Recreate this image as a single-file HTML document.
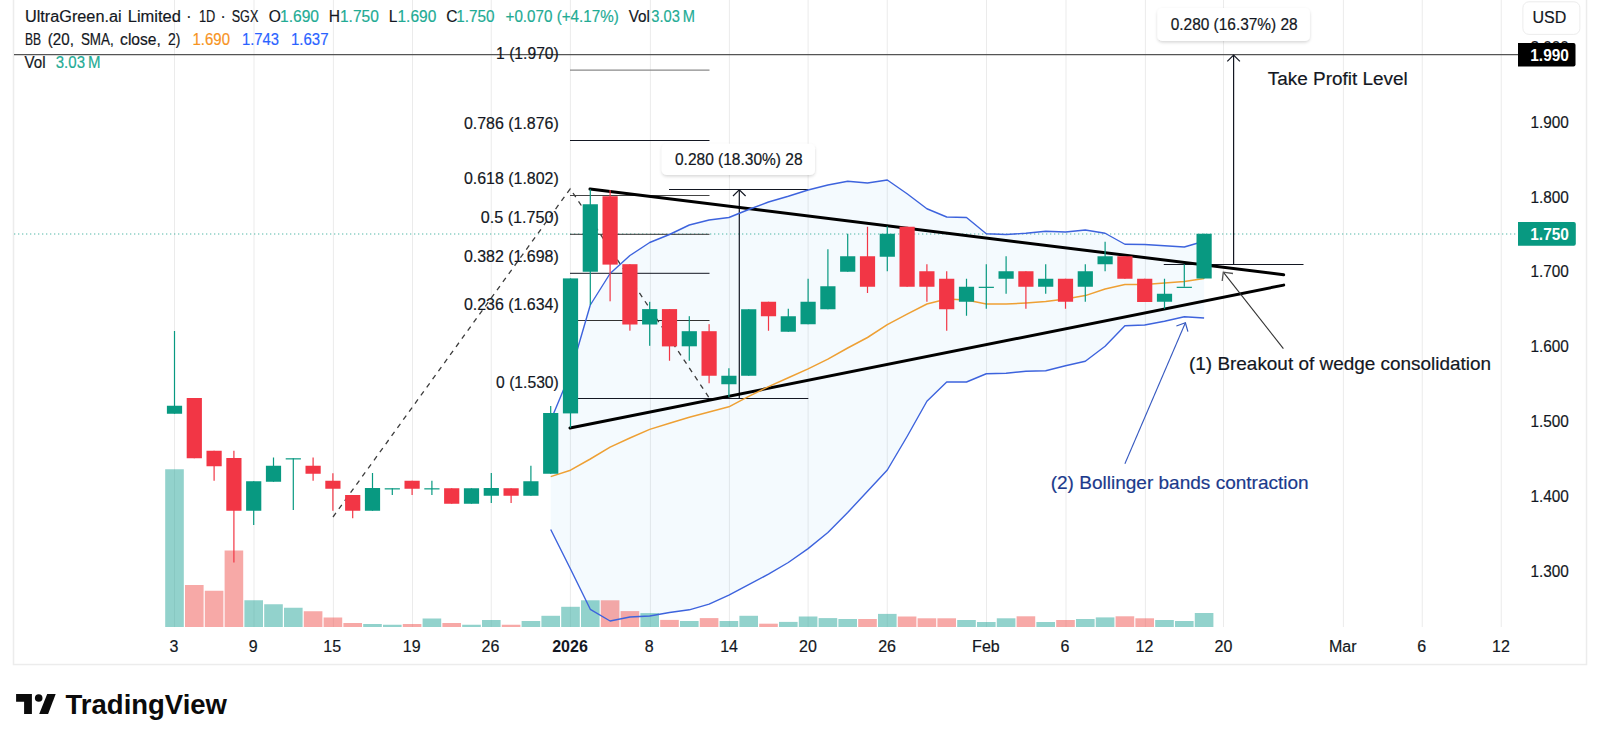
<!DOCTYPE html><html><head><meta charset="utf-8"><title>UltraGreen.ai Limited chart</title><style>
html,body{margin:0;padding:0;background:#fff;}body{width:1600px;height:745px;overflow:hidden;position:relative;}
svg{position:absolute;left:0;top:0;display:block;}
text{font-family:"Liberation Sans", Arial, sans-serif;stroke-width:0.18px;}
</style></head><body>
<svg width="1600" height="745" viewBox="0 0 1600 745">
<rect x="0" y="0" width="1600" height="745" fill="#ffffff"/>
<rect x="13.5" y="-2" width="1573" height="666.5" fill="none" stroke="#ececec" stroke-width="1.5"/>
<line x1="174.50" y1="0" x2="174.50" y2="627" stroke="#ebebeb" stroke-width="1"/>
<line x1="254.00" y1="0" x2="254.00" y2="627" stroke="#ebebeb" stroke-width="1"/>
<line x1="333.40" y1="0" x2="333.40" y2="627" stroke="#ebebeb" stroke-width="1"/>
<line x1="412.50" y1="0" x2="412.50" y2="627" stroke="#ebebeb" stroke-width="1"/>
<line x1="491.25" y1="0" x2="491.25" y2="627" stroke="#ebebeb" stroke-width="1"/>
<line x1="570.40" y1="0" x2="570.40" y2="627" stroke="#ebebeb" stroke-width="1"/>
<line x1="650.40" y1="0" x2="650.40" y2="627" stroke="#ebebeb" stroke-width="1"/>
<line x1="729.40" y1="0" x2="729.40" y2="627" stroke="#ebebeb" stroke-width="1"/>
<line x1="808.10" y1="0" x2="808.10" y2="627" stroke="#ebebeb" stroke-width="1"/>
<line x1="887.25" y1="0" x2="887.25" y2="627" stroke="#ebebeb" stroke-width="1"/>
<line x1="986.50" y1="0" x2="986.50" y2="627" stroke="#ebebeb" stroke-width="1"/>
<line x1="1066.00" y1="0" x2="1066.00" y2="627" stroke="#ebebeb" stroke-width="1"/>
<line x1="1145.40" y1="0" x2="1145.40" y2="627" stroke="#ebebeb" stroke-width="1"/>
<line x1="1223.50" y1="0" x2="1223.50" y2="627" stroke="#ebebeb" stroke-width="1"/>
<line x1="1343.40" y1="0" x2="1343.40" y2="627" stroke="#ebebeb" stroke-width="1"/>
<line x1="1422.25" y1="0" x2="1422.25" y2="627" stroke="#ebebeb" stroke-width="1"/>
<line x1="1501.25" y1="0" x2="1501.25" y2="627" stroke="#ebebeb" stroke-width="1"/>
<polygon points="550.70,420.50 570.50,373.00 590.30,305.00 610.10,273.50 629.90,255.50 649.70,242.50 669.50,234.50 689.30,225.00 709.10,220.00 728.90,217.50 748.70,209.50 768.50,202.00 788.30,196.25 808.10,190.00 827.90,185.00 847.70,181.25 867.50,183.00 887.30,180.00 907.10,193.75 926.90,208.75 946.70,217.00 966.50,217.50 986.30,233.75 1006.10,234.50 1025.90,233.25 1045.70,231.25 1065.50,232.00 1085.30,230.00 1105.10,233.25 1124.90,244.25 1144.70,244.50 1164.50,245.75 1184.30,247.00 1204.10,241.25 1204.10,318.00 1184.30,316.75 1164.50,321.25 1144.70,325.00 1124.90,325.75 1105.10,346.25 1085.30,361.25 1065.50,365.75 1045.70,370.75 1025.90,371.25 1006.10,373.25 986.30,373.75 966.50,382.00 946.70,382.00 926.90,401.25 907.10,436.50 887.30,470.00 867.50,491.25 847.70,512.50 827.90,532.50 808.10,548.60 788.30,562.50 768.50,574.20 748.70,584.60 728.90,595.10 709.10,604.10 689.30,609.80 669.50,612.50 649.70,616.00 629.90,617.00 610.10,621.00 590.30,609.30 570.50,569.00 550.70,529.50" fill="rgba(33,150,243,0.05)"/>
<rect x="165.20" y="469.25" width="18.6" height="157.75" fill="rgba(38,166,154,0.5)"/>
<rect x="185.00" y="585.00" width="18.6" height="42.00" fill="rgba(239,83,80,0.5)"/>
<rect x="204.80" y="590.75" width="18.6" height="36.25" fill="rgba(239,83,80,0.5)"/>
<rect x="224.60" y="550.50" width="18.6" height="76.50" fill="rgba(239,83,80,0.5)"/>
<rect x="244.40" y="600.25" width="18.6" height="26.75" fill="rgba(38,166,154,0.5)"/>
<rect x="264.20" y="604.25" width="18.6" height="22.75" fill="rgba(38,166,154,0.5)"/>
<rect x="284.00" y="607.75" width="18.6" height="19.25" fill="rgba(38,166,154,0.5)"/>
<rect x="303.80" y="611.25" width="18.6" height="15.75" fill="rgba(239,83,80,0.5)"/>
<rect x="323.60" y="617.50" width="18.6" height="9.50" fill="rgba(239,83,80,0.5)"/>
<rect x="343.40" y="623.00" width="18.6" height="4.00" fill="rgba(239,83,80,0.5)"/>
<rect x="363.20" y="624.00" width="18.6" height="3.00" fill="rgba(38,166,154,0.5)"/>
<rect x="383.00" y="624.75" width="18.6" height="2.25" fill="rgba(38,166,154,0.5)"/>
<rect x="402.80" y="624.00" width="18.6" height="3.00" fill="rgba(239,83,80,0.5)"/>
<rect x="422.60" y="618.50" width="18.6" height="8.50" fill="rgba(38,166,154,0.5)"/>
<rect x="442.40" y="623.00" width="18.6" height="4.00" fill="rgba(239,83,80,0.5)"/>
<rect x="462.20" y="624.75" width="18.6" height="2.25" fill="rgba(38,166,154,0.5)"/>
<rect x="482.00" y="620.00" width="18.6" height="7.00" fill="rgba(38,166,154,0.5)"/>
<rect x="501.80" y="624.75" width="18.6" height="2.25" fill="rgba(239,83,80,0.5)"/>
<rect x="521.60" y="621.00" width="18.6" height="6.00" fill="rgba(38,166,154,0.5)"/>
<rect x="541.40" y="615.80" width="18.6" height="11.20" fill="rgba(38,166,154,0.5)"/>
<rect x="561.20" y="606.80" width="18.6" height="20.20" fill="rgba(38,166,154,0.5)"/>
<rect x="581.00" y="600.30" width="18.6" height="26.70" fill="rgba(38,166,154,0.5)"/>
<rect x="600.80" y="600.30" width="18.6" height="26.70" fill="rgba(239,83,80,0.5)"/>
<rect x="620.60" y="611.10" width="18.6" height="15.90" fill="rgba(239,83,80,0.5)"/>
<rect x="640.40" y="613.10" width="18.6" height="13.90" fill="rgba(38,166,154,0.5)"/>
<rect x="660.20" y="619.90" width="18.6" height="7.10" fill="rgba(239,83,80,0.5)"/>
<rect x="680.00" y="621.00" width="18.6" height="6.00" fill="rgba(38,166,154,0.5)"/>
<rect x="699.80" y="618.10" width="18.6" height="8.90" fill="rgba(239,83,80,0.5)"/>
<rect x="719.60" y="621.00" width="18.6" height="6.00" fill="rgba(38,166,154,0.5)"/>
<rect x="739.40" y="615.80" width="18.6" height="11.20" fill="rgba(38,166,154,0.5)"/>
<rect x="759.20" y="623.70" width="18.6" height="3.30" fill="rgba(239,83,80,0.5)"/>
<rect x="779.00" y="621.90" width="18.6" height="5.10" fill="rgba(38,166,154,0.5)"/>
<rect x="798.80" y="616.50" width="18.6" height="10.50" fill="rgba(38,166,154,0.5)"/>
<rect x="818.60" y="618.10" width="18.6" height="8.90" fill="rgba(38,166,154,0.5)"/>
<rect x="838.40" y="619.00" width="18.6" height="8.00" fill="rgba(38,166,154,0.5)"/>
<rect x="858.20" y="619.00" width="18.6" height="8.00" fill="rgba(239,83,80,0.5)"/>
<rect x="878.00" y="613.90" width="18.6" height="13.10" fill="rgba(38,166,154,0.5)"/>
<rect x="897.80" y="616.50" width="18.6" height="10.50" fill="rgba(239,83,80,0.5)"/>
<rect x="917.60" y="618.30" width="18.6" height="8.70" fill="rgba(239,83,80,0.5)"/>
<rect x="937.40" y="618.30" width="18.6" height="8.70" fill="rgba(239,83,80,0.5)"/>
<rect x="957.20" y="620.00" width="18.6" height="7.00" fill="rgba(38,166,154,0.5)"/>
<rect x="977.00" y="622.00" width="18.6" height="5.00" fill="rgba(38,166,154,0.5)"/>
<rect x="996.80" y="618.30" width="18.6" height="8.70" fill="rgba(38,166,154,0.5)"/>
<rect x="1016.60" y="616.30" width="18.6" height="10.70" fill="rgba(239,83,80,0.5)"/>
<rect x="1036.40" y="622.00" width="18.6" height="5.00" fill="rgba(38,166,154,0.5)"/>
<rect x="1056.20" y="620.00" width="18.6" height="7.00" fill="rgba(239,83,80,0.5)"/>
<rect x="1076.00" y="619.00" width="18.6" height="8.00" fill="rgba(38,166,154,0.5)"/>
<rect x="1095.80" y="617.40" width="18.6" height="9.60" fill="rgba(38,166,154,0.5)"/>
<rect x="1115.60" y="616.30" width="18.6" height="10.70" fill="rgba(239,83,80,0.5)"/>
<rect x="1135.40" y="618.30" width="18.6" height="8.70" fill="rgba(239,83,80,0.5)"/>
<rect x="1155.20" y="620.00" width="18.6" height="7.00" fill="rgba(38,166,154,0.5)"/>
<rect x="1175.00" y="621.00" width="18.6" height="6.00" fill="rgba(38,166,154,0.5)"/>
<rect x="1194.80" y="613.00" width="18.6" height="14.00" fill="rgba(38,166,154,0.5)"/>
<line x1="14" y1="234" x2="1517" y2="234" stroke="#089981" stroke-width="1" stroke-dasharray="1.3,2.7" opacity="0.7"/>
<line x1="570" y1="70.10" x2="709.5" y2="70.10" stroke="#8a8a8a" stroke-width="1.3"/>
<line x1="570" y1="140.50" x2="709.5" y2="140.50" stroke="#131722" stroke-width="1.0"/>
<line x1="570" y1="195.50" x2="709.5" y2="195.50" stroke="#444" stroke-width="1.0"/>
<line x1="570" y1="234.30" x2="709.5" y2="234.30" stroke="#333" stroke-width="1.0"/>
<line x1="570" y1="273.30" x2="709.5" y2="273.30" stroke="#131722" stroke-width="1.0"/>
<line x1="570" y1="320.50" x2="709.5" y2="320.50" stroke="#333" stroke-width="1.0"/>
<line x1="570" y1="398.50" x2="709.5" y2="398.50" stroke="#131722" stroke-width="1.0"/>
<polyline points="333,517 570.2,188.8 709.3,398" fill="none" stroke="#3c3c3c" stroke-width="1.3" stroke-dasharray="5,5"/>
<line x1="669" y1="189.5" x2="808.3" y2="189.5" stroke="#131722" stroke-width="1"/>
<line x1="669" y1="398.5" x2="808.3" y2="398.5" stroke="#131722" stroke-width="1"/>
<line x1="739.3" y1="398.5" x2="739.3" y2="190" stroke="#131722" stroke-width="1.2"/>
<polyline points="733,196 739.3,189.8 745.6,196" fill="none" stroke="#131722" stroke-width="1.2"/>
<line x1="14" y1="54.7" x2="1518" y2="54.7" stroke="#555" stroke-width="1.2"/>
<line x1="1163.75" y1="264.5" x2="1303.5" y2="264.5" stroke="#131722" stroke-width="1"/>
<line x1="1233.6" y1="264.5" x2="1233.6" y2="55" stroke="#131722" stroke-width="1.2"/>
<polyline points="1227.3,61.3 1233.6,55 1239.9,61.3" fill="none" stroke="#131722" stroke-width="1.2"/>
<line x1="590" y1="189" x2="1283.7" y2="274.8" stroke="#000" stroke-width="3" stroke-linecap="round"/>
<line x1="570" y1="428" x2="1283.7" y2="285.1" stroke="#000" stroke-width="3" stroke-linecap="round"/>
<line x1="1283.4" y1="348.7" x2="1223.3" y2="272.2" stroke="#333" stroke-width="1.1"/>
<polyline points="1233,273.5 1223.3,272.2 1222.2,281" fill="none" stroke="#555" stroke-width="1.3"/>
<line x1="1124.9" y1="463.8" x2="1185.4" y2="322.8" stroke="#3558c0" stroke-width="1.1"/>
<polyline points="1176.4,326 1185.4,322.8 1187.9,331.7" fill="none" stroke="#3558c0" stroke-width="1.2"/>
<polyline points="550.70,420.50 570.50,373.00 590.30,305.00 610.10,273.50 629.90,255.50 649.70,242.50 669.50,234.50 689.30,225.00 709.10,220.00 728.90,217.50 748.70,209.50 768.50,202.00 788.30,196.25 808.10,190.00 827.90,185.00 847.70,181.25 867.50,183.00 887.30,180.00 907.10,193.75 926.90,208.75 946.70,217.00 966.50,217.50 986.30,233.75 1006.10,234.50 1025.90,233.25 1045.70,231.25 1065.50,232.00 1085.30,230.00 1105.10,233.25 1124.90,244.25 1144.70,244.50 1164.50,245.75 1184.30,247.00 1204.10,241.25" fill="none" stroke="#3d63dd" stroke-width="1.4" stroke-linejoin="round"/>
<polyline points="550.70,529.50 570.50,569.00 590.30,609.30 610.10,621.00 629.90,617.00 649.70,616.00 669.50,612.50 689.30,609.80 709.10,604.10 728.90,595.10 748.70,584.60 768.50,574.20 788.30,562.50 808.10,548.60 827.90,532.50 847.70,512.50 867.50,491.25 887.30,470.00 907.10,436.50 926.90,401.25 946.70,382.00 966.50,382.00 986.30,373.75 1006.10,373.25 1025.90,371.25 1045.70,370.75 1065.50,365.75 1085.30,361.25 1105.10,346.25 1124.90,325.75 1144.70,325.00 1164.50,321.25 1184.30,316.75 1204.10,318.00" fill="none" stroke="#3d63dd" stroke-width="1.4" stroke-linejoin="round"/>
<polyline points="550.70,476.60 570.50,470.20 590.30,459.00 610.10,447.10 629.90,438.00 649.70,429.40 669.50,423.20 689.30,417.20 709.10,412.00 728.90,406.80 748.70,396.30 768.50,386.60 788.30,377.80 808.10,368.90 827.90,359.20 847.70,348.00 867.50,337.50 887.30,324.60 907.10,314.20 926.90,304.00 946.70,299.00 966.50,300.00 986.30,304.00 1006.10,304.00 1025.90,303.00 1045.70,301.60 1065.50,299.00 1085.30,295.60 1105.10,289.00 1124.90,284.40 1144.70,284.40 1164.50,283.00 1184.30,281.60 1204.10,278.60" fill="none" stroke="#eea034" stroke-width="1.5" stroke-linejoin="round"/>
<rect x="173.90" y="331.00" width="1.2" height="82.75" fill="#089981"/>
<rect x="166.90" y="405.75" width="15.2" height="8.00" fill="#089981"/>
<rect x="193.70" y="398.00" width="1.2" height="60.25" fill="#F23645"/>
<rect x="186.70" y="398.00" width="15.2" height="60.25" fill="#F23645"/>
<rect x="213.50" y="450.75" width="1.2" height="30.00" fill="#F23645"/>
<rect x="206.50" y="450.75" width="15.2" height="15.50" fill="#F23645"/>
<rect x="233.30" y="450.75" width="1.2" height="111.75" fill="#F23645"/>
<rect x="226.30" y="458.00" width="15.2" height="52.75" fill="#F23645"/>
<rect x="253.10" y="481.25" width="1.2" height="43.75" fill="#089981"/>
<rect x="246.10" y="481.25" width="15.2" height="29.50" fill="#089981"/>
<rect x="272.90" y="457.50" width="1.2" height="24.25" fill="#089981"/>
<rect x="265.90" y="465.75" width="15.2" height="16.00" fill="#089981"/>
<rect x="292.70" y="458.25" width="1.2" height="51.75" fill="#089981"/>
<rect x="285.70" y="458.25" width="15.2" height="1.20" fill="#089981"/>
<rect x="312.50" y="457.50" width="1.2" height="23.25" fill="#F23645"/>
<rect x="305.50" y="465.75" width="15.2" height="8.00" fill="#F23645"/>
<rect x="332.30" y="473.25" width="1.2" height="37.50" fill="#F23645"/>
<rect x="325.30" y="480.75" width="15.2" height="8.00" fill="#F23645"/>
<rect x="352.10" y="495.00" width="1.2" height="23.25" fill="#F23645"/>
<rect x="345.10" y="495.00" width="15.2" height="15.75" fill="#F23645"/>
<rect x="371.90" y="473.00" width="1.2" height="37.75" fill="#089981"/>
<rect x="364.90" y="488.00" width="15.2" height="22.75" fill="#089981"/>
<rect x="391.70" y="488.25" width="1.2" height="6.75" fill="#089981"/>
<rect x="384.70" y="488.25" width="15.2" height="1.20" fill="#089981"/>
<rect x="411.50" y="480.75" width="1.2" height="14.25" fill="#F23645"/>
<rect x="404.50" y="480.75" width="15.2" height="8.00" fill="#F23645"/>
<rect x="431.30" y="480.75" width="1.2" height="14.25" fill="#089981"/>
<rect x="424.30" y="488.25" width="15.2" height="1.20" fill="#089981"/>
<rect x="451.10" y="488.25" width="1.2" height="15.50" fill="#F23645"/>
<rect x="444.10" y="488.25" width="15.2" height="15.50" fill="#F23645"/>
<rect x="470.90" y="488.25" width="1.2" height="15.50" fill="#089981"/>
<rect x="463.90" y="488.25" width="15.2" height="15.50" fill="#089981"/>
<rect x="490.70" y="473.00" width="1.2" height="30.00" fill="#089981"/>
<rect x="483.70" y="488.00" width="15.2" height="7.75" fill="#089981"/>
<rect x="510.50" y="488.25" width="1.2" height="14.75" fill="#F23645"/>
<rect x="503.50" y="488.25" width="15.2" height="7.50" fill="#F23645"/>
<rect x="530.30" y="465.75" width="1.2" height="30.00" fill="#089981"/>
<rect x="523.30" y="481.25" width="15.2" height="14.50" fill="#089981"/>
<rect x="550.10" y="406.00" width="1.2" height="67.75" fill="#089981"/>
<rect x="543.10" y="413.00" width="15.2" height="60.75" fill="#089981"/>
<rect x="569.90" y="278.40" width="1.2" height="149.40" fill="#089981"/>
<rect x="562.90" y="278.40" width="15.2" height="135.00" fill="#089981"/>
<rect x="589.70" y="189.25" width="1.2" height="115.75" fill="#089981"/>
<rect x="582.70" y="204.25" width="15.2" height="67.50" fill="#089981"/>
<rect x="609.50" y="190.00" width="1.2" height="111.30" fill="#F23645"/>
<rect x="602.50" y="196.25" width="15.2" height="68.35" fill="#F23645"/>
<rect x="629.30" y="264.20" width="1.2" height="66.50" fill="#F23645"/>
<rect x="622.30" y="264.20" width="15.2" height="60.30" fill="#F23645"/>
<rect x="649.10" y="301.80" width="1.2" height="44.00" fill="#089981"/>
<rect x="642.10" y="309.10" width="15.2" height="15.40" fill="#089981"/>
<rect x="668.90" y="309.10" width="1.2" height="51.65" fill="#F23645"/>
<rect x="661.90" y="309.10" width="15.2" height="37.30" fill="#F23645"/>
<rect x="688.70" y="316.20" width="1.2" height="44.55" fill="#089981"/>
<rect x="681.70" y="331.20" width="15.2" height="15.10" fill="#089981"/>
<rect x="708.50" y="324.20" width="1.2" height="59.05" fill="#F23645"/>
<rect x="701.50" y="331.20" width="15.2" height="44.55" fill="#F23645"/>
<rect x="728.30" y="368.25" width="1.2" height="28.75" fill="#089981"/>
<rect x="721.30" y="375.75" width="15.2" height="8.50" fill="#089981"/>
<rect x="748.10" y="309.25" width="1.2" height="66.50" fill="#089981"/>
<rect x="741.10" y="309.25" width="15.2" height="66.50" fill="#089981"/>
<rect x="767.90" y="301.75" width="1.2" height="29.00" fill="#F23645"/>
<rect x="760.90" y="301.75" width="15.2" height="14.50" fill="#F23645"/>
<rect x="787.70" y="308.75" width="1.2" height="23.00" fill="#089981"/>
<rect x="780.70" y="316.25" width="15.2" height="15.50" fill="#089981"/>
<rect x="807.50" y="278.75" width="1.2" height="45.50" fill="#089981"/>
<rect x="800.50" y="301.75" width="15.2" height="22.50" fill="#089981"/>
<rect x="827.30" y="249.25" width="1.2" height="60.00" fill="#089981"/>
<rect x="820.30" y="286.25" width="15.2" height="23.00" fill="#089981"/>
<rect x="847.10" y="233.75" width="1.2" height="38.00" fill="#089981"/>
<rect x="840.10" y="256.25" width="15.2" height="15.50" fill="#089981"/>
<rect x="866.90" y="226.75" width="1.2" height="66.25" fill="#F23645"/>
<rect x="859.90" y="256.25" width="15.2" height="30.50" fill="#F23645"/>
<rect x="886.70" y="226.25" width="1.2" height="45.00" fill="#089981"/>
<rect x="879.70" y="233.75" width="15.2" height="23.00" fill="#089981"/>
<rect x="906.50" y="226.75" width="1.2" height="60.00" fill="#F23645"/>
<rect x="899.50" y="226.75" width="15.2" height="60.00" fill="#F23645"/>
<rect x="926.30" y="264.25" width="1.2" height="37.50" fill="#F23645"/>
<rect x="919.30" y="271.25" width="15.2" height="15.50" fill="#F23645"/>
<rect x="946.10" y="271.25" width="1.2" height="59.50" fill="#F23645"/>
<rect x="939.10" y="278.75" width="15.2" height="30.50" fill="#F23645"/>
<rect x="965.90" y="278.75" width="1.2" height="37.00" fill="#089981"/>
<rect x="958.90" y="286.75" width="15.2" height="15.00" fill="#089981"/>
<rect x="985.70" y="264.25" width="1.2" height="44.50" fill="#089981"/>
<rect x="978.70" y="286.75" width="15.2" height="1.20" fill="#089981"/>
<rect x="1005.50" y="256.25" width="1.2" height="37.50" fill="#089981"/>
<rect x="998.50" y="271.25" width="15.2" height="7.50" fill="#089981"/>
<rect x="1025.30" y="271.25" width="1.2" height="37.50" fill="#F23645"/>
<rect x="1018.30" y="271.25" width="15.2" height="15.50" fill="#F23645"/>
<rect x="1045.10" y="264.25" width="1.2" height="29.50" fill="#089981"/>
<rect x="1038.10" y="278.75" width="15.2" height="8.00" fill="#089981"/>
<rect x="1064.90" y="278.75" width="1.2" height="30.00" fill="#F23645"/>
<rect x="1057.90" y="278.75" width="15.2" height="23.00" fill="#F23645"/>
<rect x="1084.70" y="264.25" width="1.2" height="37.50" fill="#089981"/>
<rect x="1077.70" y="271.25" width="15.2" height="15.50" fill="#089981"/>
<rect x="1104.50" y="241.75" width="1.2" height="29.50" fill="#089981"/>
<rect x="1097.50" y="256.25" width="15.2" height="8.00" fill="#089981"/>
<rect x="1124.30" y="256.25" width="1.2" height="22.50" fill="#F23645"/>
<rect x="1117.30" y="256.25" width="15.2" height="22.50" fill="#F23645"/>
<rect x="1144.10" y="278.75" width="1.2" height="23.25" fill="#F23645"/>
<rect x="1137.10" y="278.75" width="15.2" height="23.25" fill="#F23645"/>
<rect x="1163.90" y="278.75" width="1.2" height="30.00" fill="#089981"/>
<rect x="1156.90" y="293.75" width="15.2" height="8.00" fill="#089981"/>
<rect x="1183.70" y="264.25" width="1.2" height="22.50" fill="#089981"/>
<rect x="1176.70" y="286.75" width="15.2" height="1.20" fill="#089981"/>
<rect x="1203.50" y="233.75" width="1.2" height="44.75" fill="#089981"/>
<rect x="1196.50" y="233.75" width="15.2" height="44.75" fill="#089981"/>
<text x="496.10" y="58.80" font-size="16.00" fill="#131722" stroke="#131722" textLength="62.70" lengthAdjust="spacingAndGlyphs">1 (1.970)</text>
<text x="463.90" y="128.90" font-size="16.00" fill="#131722" stroke="#131722" textLength="94.90" lengthAdjust="spacingAndGlyphs">0.786 (1.876)</text>
<text x="463.90" y="184.30" font-size="16.00" fill="#131722" stroke="#131722" textLength="94.90" lengthAdjust="spacingAndGlyphs">0.618 (1.802)</text>
<text x="480.80" y="223.30" font-size="16.00" fill="#131722" stroke="#131722" textLength="78.00" lengthAdjust="spacingAndGlyphs">0.5 (1.750)</text>
<text x="463.90" y="262.20" font-size="16.00" fill="#131722" stroke="#131722" textLength="94.90" lengthAdjust="spacingAndGlyphs">0.382 (1.698)</text>
<text x="463.90" y="310.30" font-size="16.00" fill="#131722" stroke="#131722" textLength="94.90" lengthAdjust="spacingAndGlyphs">0.236 (1.634)</text>
<text x="496.10" y="387.90" font-size="16.00" fill="#131722" stroke="#131722" textLength="62.70" lengthAdjust="spacingAndGlyphs">0 (1.530)</text>
<defs><filter id="sh" x="-10%" y="-30%" width="120%" height="170%"><feDropShadow dx="0" dy="1.5" stdDeviation="1.8" flood-color="#000" flood-opacity="0.16"/></filter></defs>
<rect x="661.75" y="143.75" width="153.25" height="31.25" rx="5" fill="#fff" filter="url(#sh)"/>
<text x="675.00" y="165.00" font-size="15.60" fill="#131722" stroke="#131722" textLength="127.50" lengthAdjust="spacingAndGlyphs">0.280 (18.30%) 28</text>
<rect x="1157.4" y="8" width="152.5" height="32.9" rx="5" fill="#fff" filter="url(#sh)"/>
<text x="1170.70" y="29.80" font-size="15.60" fill="#131722" stroke="#131722" textLength="127.00" lengthAdjust="spacingAndGlyphs">0.280 (16.37%) 28</text>
<text x="1267.80" y="85.20" font-size="18.00" fill="#131722" stroke="#131722" textLength="140.00" lengthAdjust="spacingAndGlyphs">Take Profit Level</text>
<text x="1189.00" y="370.30" font-size="18.20" fill="#131722" stroke="#131722" textLength="302.00" lengthAdjust="spacingAndGlyphs">(1) Breakout of wedge consolidation</text>
<text x="1050.70" y="489.30" font-size="18.20" fill="#1b3a8c" stroke="#1b3a8c" textLength="258.00" lengthAdjust="spacingAndGlyphs">(2) Bollinger bands contraction</text>
<text x="25.00" y="21.50" font-size="15.60" fill="#131722" stroke="#131722" textLength="96.60" lengthAdjust="spacingAndGlyphs">UltraGreen.ai</text>
<text x="127.80" y="21.50" font-size="15.60" fill="#131722" stroke="#131722" textLength="53.10" lengthAdjust="spacingAndGlyphs">Limited</text>
<text x="198.90" y="21.50" font-size="15.60" fill="#131722" stroke="#131722" textLength="16.40" lengthAdjust="spacingAndGlyphs">1D</text>
<text x="231.70" y="21.50" font-size="15.60" fill="#131722" stroke="#131722" textLength="26.60" lengthAdjust="spacingAndGlyphs">SGX</text>
<text x="188.75" y="21.50" font-size="15.60" fill="#131722" stroke="#131722" text-anchor="middle">·</text>
<text x="223.10" y="21.50" font-size="15.60" fill="#131722" stroke="#131722" text-anchor="middle">·</text>
<text x="268.75" y="21.50" font-size="15.60" fill="#131722" stroke="#131722">O</text>
<text x="280.00" y="21.50" font-size="15.60" fill="#22ab94" stroke="#22ab94" textLength="39.00" lengthAdjust="spacingAndGlyphs">1.690</text>
<text x="328.75" y="21.50" font-size="15.60" fill="#131722" stroke="#131722">H</text>
<text x="340.00" y="21.50" font-size="15.60" fill="#22ab94" stroke="#22ab94" textLength="38.75" lengthAdjust="spacingAndGlyphs">1.750</text>
<text x="388.75" y="21.50" font-size="15.60" fill="#131722" stroke="#131722">L</text>
<text x="397.50" y="21.50" font-size="15.60" fill="#22ab94" stroke="#22ab94" textLength="38.75" lengthAdjust="spacingAndGlyphs">1.690</text>
<text x="446.25" y="21.50" font-size="15.60" fill="#131722" stroke="#131722">C</text>
<text x="456.25" y="21.50" font-size="15.60" fill="#22ab94" stroke="#22ab94" textLength="38.25" lengthAdjust="spacingAndGlyphs">1.750</text>
<text x="505.50" y="21.50" font-size="15.60" fill="#22ab94" stroke="#22ab94" textLength="113.25" lengthAdjust="spacingAndGlyphs">+0.070 (+4.17%)</text>
<text x="628.75" y="21.50" font-size="15.60" fill="#131722" stroke="#131722" textLength="21.25" lengthAdjust="spacingAndGlyphs">Vol</text>
<text x="651.25" y="21.50" font-size="15.60" fill="#22ab94" stroke="#22ab94" textLength="43.75" lengthAdjust="spacingAndGlyphs">3.03 M</text>
<text x="25.00" y="44.60" font-size="15.60" fill="#131722" stroke="#131722" textLength="16.10" lengthAdjust="spacingAndGlyphs">BB</text>
<text x="47.80" y="44.60" font-size="15.60" fill="#131722" stroke="#131722" textLength="26.10" lengthAdjust="spacingAndGlyphs">(20,</text>
<text x="80.90" y="44.60" font-size="15.60" fill="#131722" stroke="#131722" textLength="32.85" lengthAdjust="spacingAndGlyphs">SMA,</text>
<text x="120.10" y="44.60" font-size="15.60" fill="#131722" stroke="#131722" textLength="40.80" lengthAdjust="spacingAndGlyphs">close,</text>
<text x="167.90" y="44.60" font-size="15.60" fill="#131722" stroke="#131722" textLength="12.40" lengthAdjust="spacingAndGlyphs">2)</text>
<text x="192.50" y="44.60" font-size="15.60" fill="#F7931E" stroke="#F7931E" textLength="37.50" lengthAdjust="spacingAndGlyphs">1.690</text>
<text x="242.00" y="44.60" font-size="15.60" fill="#2962FF" stroke="#2962FF" textLength="37.00" lengthAdjust="spacingAndGlyphs">1.743</text>
<text x="291.00" y="44.60" font-size="15.60" fill="#2962FF" stroke="#2962FF" textLength="37.50" lengthAdjust="spacingAndGlyphs">1.637</text>
<text x="24.50" y="67.50" font-size="15.60" fill="#131722" stroke="#131722" textLength="21.00" lengthAdjust="spacingAndGlyphs">Vol</text>
<text x="55.75" y="67.50" font-size="15.60" fill="#22ab94" stroke="#22ab94" textLength="44.75" lengthAdjust="spacingAndGlyphs">3.03 M</text>
<text x="1568.90" y="127.70" font-size="16.00" fill="#131722" stroke="#131722" text-anchor="end" textLength="38.40" lengthAdjust="spacingAndGlyphs">1.900</text>
<text x="1568.90" y="202.60" font-size="16.00" fill="#131722" stroke="#131722" text-anchor="end" textLength="38.40" lengthAdjust="spacingAndGlyphs">1.800</text>
<text x="1568.90" y="277.40" font-size="16.00" fill="#131722" stroke="#131722" text-anchor="end" textLength="38.40" lengthAdjust="spacingAndGlyphs">1.700</text>
<text x="1568.90" y="352.20" font-size="16.00" fill="#131722" stroke="#131722" text-anchor="end" textLength="38.40" lengthAdjust="spacingAndGlyphs">1.600</text>
<text x="1568.90" y="427.00" font-size="16.00" fill="#131722" stroke="#131722" text-anchor="end" textLength="38.40" lengthAdjust="spacingAndGlyphs">1.500</text>
<text x="1568.90" y="501.90" font-size="16.00" fill="#131722" stroke="#131722" text-anchor="end" textLength="38.40" lengthAdjust="spacingAndGlyphs">1.400</text>
<text x="1568.90" y="576.70" font-size="16.00" fill="#131722" stroke="#131722" text-anchor="end" textLength="38.40" lengthAdjust="spacingAndGlyphs">1.300</text>
<text x="1568.90" y="53.10" font-size="16.00" fill="#131722" stroke="#131722" text-anchor="end" textLength="38.40" lengthAdjust="spacingAndGlyphs">2.000</text>
<path d="M1518,43 H1573.5 a2,2 0 0 1 2,2 V64.5 a2,2 0 0 1 -2,2 H1518 Z" fill="#000"/>
<text x="1568.90" y="60.50" font-size="16.00" fill="#fff" text-anchor="end" font-weight="bold" textLength="38.60" lengthAdjust="spacingAndGlyphs">1.990</text>
<path d="M1518,222 H1573.8 a2,2 0 0 1 2,2 V243.8 a2,2 0 0 1 -2,2 H1518 Z" fill="#089981"/>
<text x="1568.90" y="239.80" font-size="16.00" fill="#fff" text-anchor="end" font-weight="bold" textLength="38.60" lengthAdjust="spacingAndGlyphs">1.750</text>
<rect x="1522.9" y="1.8" width="57" height="32.6" rx="6" fill="#fff" stroke="#ececec" stroke-width="1"/>
<text x="1549.40" y="22.80" font-size="16.00" fill="#131722" stroke="#131722" text-anchor="middle">USD</text>
<text x="174.00" y="652.30" font-size="16.00" fill="#131722" stroke="#131722" text-anchor="middle">3</text>
<text x="253.30" y="652.30" font-size="16.00" fill="#131722" stroke="#131722" text-anchor="middle">9</text>
<text x="332.20" y="652.30" font-size="16.00" fill="#131722" stroke="#131722" text-anchor="middle">15</text>
<text x="411.70" y="652.30" font-size="16.00" fill="#131722" stroke="#131722" text-anchor="middle">19</text>
<text x="490.50" y="652.30" font-size="16.00" fill="#131722" stroke="#131722" text-anchor="middle">26</text>
<text x="649.20" y="652.30" font-size="16.00" fill="#131722" stroke="#131722" text-anchor="middle">8</text>
<text x="729.10" y="652.30" font-size="16.00" fill="#131722" stroke="#131722" text-anchor="middle">14</text>
<text x="808.00" y="652.30" font-size="16.00" fill="#131722" stroke="#131722" text-anchor="middle">20</text>
<text x="887.10" y="652.30" font-size="16.00" fill="#131722" stroke="#131722" text-anchor="middle">26</text>
<text x="985.90" y="652.30" font-size="16.00" fill="#131722" stroke="#131722" text-anchor="middle">Feb</text>
<text x="1065.00" y="652.30" font-size="16.00" fill="#131722" stroke="#131722" text-anchor="middle">6</text>
<text x="1144.50" y="652.30" font-size="16.00" fill="#131722" stroke="#131722" text-anchor="middle">12</text>
<text x="1223.40" y="652.30" font-size="16.00" fill="#131722" stroke="#131722" text-anchor="middle">20</text>
<text x="1342.80" y="652.30" font-size="16.00" fill="#131722" stroke="#131722" text-anchor="middle">Mar</text>
<text x="1421.80" y="652.30" font-size="16.00" fill="#131722" stroke="#131722" text-anchor="middle">6</text>
<text x="1501.00" y="652.30" font-size="16.00" fill="#131722" stroke="#131722" text-anchor="middle">12</text>
<text x="570.00" y="652.30" font-size="16.00" fill="#131722" text-anchor="middle" font-weight="bold">2026</text>
<path d="M16.1,694.1 H31.9 V714 H24.1 V701.7 H16.1 Z" fill="#0b0b0b"/>
<circle cx="38.7" cy="698" r="3.8" fill="#0b0b0b"/>
<path d="M47.2,694.1 H55.7 L48.1,714 H39.2 Z" fill="#0b0b0b"/>
<text x="65.60" y="714.10" font-size="27.40" fill="#0b0b0b" font-weight="bold" textLength="161.40" lengthAdjust="spacingAndGlyphs">TradingView</text>
</svg></body></html>
